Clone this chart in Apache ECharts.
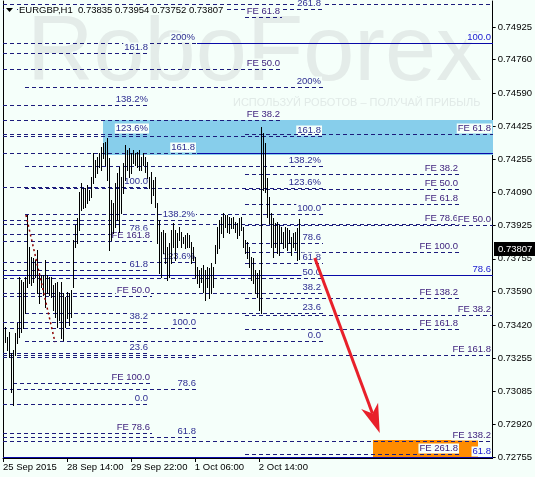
<!DOCTYPE html>
<html><head><meta charset="utf-8">
<script src="https://cdn.jsdelivr.net/npm/echarts@6/dist/echarts.min.js"></script>
<style>html,body{margin:0;padding:0;background:#F5FFFA}#c{width:535px;height:477px}</style>
</head><body><div id="c"></div>
<script>
// ---- data ----
const symbolName = 'EURGBP,H1';
const lastOHLC = [0.73835, 0.73954, 0.73752, 0.73807];
const xTickIndex = [0, 32, 64, 96, 128];
const xTickLabels = ['25 Sep 2015', '28 Sep 14:00', '29 Sep 22:00', '1 Oct 06:00', '2 Oct 14:00'];
const yTickValues = [0.74925, 0.74760, 0.74590, 0.74425, 0.74255, 0.74090, 0.73925, 0.73755, 0.73590, 0.73420, 0.73255, 0.73085, 0.72920, 0.72755];

const barHigh = [
0.73431,0.73411,0.73360,0.73385,0.73279,0.73295,0.73380,0.73431,0.73663,0.73648,
0.73638,0.73663,0.73976,0.73814,0.73764,0.73759,0.73749,0.73799,0.73683,0.73673,
0.73673,0.73749,0.73673,0.73663,0.73663,0.73623,0.73633,0.73638,0.73587,0.73638,
0.73582,0.73562,0.73587,0.73582,0.73597,0.73850,0.73925,0.73961,0.74092,0.74137,
0.74112,0.74112,0.74127,0.74102,0.74168,0.74289,0.74253,0.74269,0.74289,0.74319,
0.74339,0.74344,0.74365,0.74264,0.74052,0.74036,0.74137,0.74188,0.74218,0.74168,
0.74238,0.74329,0.74304,0.74314,0.74289,0.74304,0.74289,0.74294,0.74304,0.74269,
0.74289,0.74269,0.74243,0.74168,0.74193,0.74153,0.74168,0.74036,0.73951,0.73890,
0.73900,0.73885,0.73814,0.73835,0.73900,0.73936,0.73900,0.73885,0.73915,0.73890,
0.73865,0.73875,0.73885,0.73875,0.73840,0.73814,0.73764,0.73714,0.73698,0.73708,
0.73724,0.73698,0.73714,0.73708,0.73734,0.73714,0.73825,0.73915,0.73951,0.73966,
0.73986,0.73976,0.73976,0.73966,0.73961,0.73966,0.73941,0.73936,0.73961,0.73966,
0.73915,0.73850,0.73840,0.73814,0.73764,0.73759,0.73698,0.73683,0.73698,0.74420,
0.74390,0.74339,0.74163,0.74067,0.73986,0.73961,0.73936,0.73941,0.73925,0.73915,
0.73890,0.73915,0.73910,0.73900,0.73865,0.73885,0.73890,0.73910,0.73954];
const barLow = [
0.73380,0.73335,0.73295,0.73259,0.73083,0.73017,0.73269,0.73330,0.73360,0.73385,
0.73406,0.73481,0.73613,0.73633,0.73623,0.73638,0.73663,0.73582,0.73532,0.73613,
0.73572,0.73512,0.73582,0.73572,0.73562,0.73496,0.73461,0.73411,0.73446,0.73355,
0.73345,0.73411,0.73456,0.73421,0.73461,0.73613,0.73814,0.73835,0.73900,0.74001,
0.74011,0.74016,0.74036,0.74052,0.74067,0.74137,0.74168,0.74188,0.74218,0.74203,
0.74264,0.74228,0.74153,0.73799,0.73850,0.73885,0.73915,0.73951,0.73890,0.73986,
0.74087,0.74153,0.74203,0.74168,0.74188,0.74238,0.74228,0.74218,0.74203,0.74203,
0.74228,0.74193,0.74163,0.74112,0.74036,0.74077,0.74016,0.73835,0.73683,0.73663,
0.73784,0.73734,0.73648,0.73663,0.73734,0.73814,0.73749,0.73814,0.73850,0.73814,
0.73835,0.73809,0.73814,0.73814,0.73734,0.73749,0.73663,0.73633,0.73613,0.73638,
0.73587,0.73547,0.73613,0.73557,0.73582,0.73613,0.73734,0.73784,0.73809,0.73885,
0.73865,0.73915,0.73890,0.73885,0.73910,0.73910,0.73890,0.73860,0.73875,0.73900,
0.73814,0.73784,0.73759,0.73714,0.73648,0.73633,0.73582,0.73562,0.73496,0.73481,
0.74102,0.74092,0.73966,0.73936,0.73814,0.73764,0.73814,0.73784,0.73774,0.73835,
0.73809,0.73814,0.73799,0.73835,0.73774,0.73814,0.73799,0.73749,0.73752];

// Fibonacci level lines: price, start bar, end bar, label, solid?
const levelPrice = [0.75041,0.75016,0.74975,0.74844,0.74844,0.74794,0.74713,0.74622,0.74531,0.74455,
  0.74385,0.74375,0.74385,0.74289,0.74289,0.74223,0.74183,0.74117,0.74112,0.74107,
  0.74031,0.73981,0.73951,0.73931,0.73925,0.73880,0.73845,0.73835,0.73789,0.73739,
  0.73734,0.73698,0.73672,0.73658,0.73582,0.73567,0.73557,0.73481,0.73471,0.73436,
  0.73406,0.73401,0.73340,0.73279,0.73269,0.73259,0.73128,0.73098,0.73022,0.72876,
  0.72856,0.72835,0.72770,0.72755];
const levelStart = [0,0,121,0,97,0,0,11,0,0,
  0,0,121,0,97,11,121,0,11,121,
  121,11,0,0,121,0,0,121,121,0,
  121,0,0,0,0,0,121,11,121,0,
  0,121,11,0,0,0,5,0,0,0,
  0,0,121,0];
const levelEnd = [245,160,139.5,97,245,73.5,139.5,160,73.5,139.5,
  73.5,160,245,97,245,160,228.5,73.5,160,228.5,
  228.5,160,97,228.5,245,73.5,74.5,160,228.5,97,
  160,73.5,245,160,160,74.5,228.5,160,245,73.5,
  97.5,228.5,160,73.5,245,97.5,74.5,97.5,73.5,74.5,
  97.5,245,228.5,245];
const levelLabel = ['','261.8','FE 61.8','200%','100.0','161.8','FE 50.0','200%','138.2%','FE 38.2',
  '123.6%','161.8','FE 61.8','161.8','','138.2%','FE 38.2','100.0','123.6%','FE 50.0',
  'FE 61.8','100.0','138.2%','FE 78.6','FE 50.0','78.6','FE 161.8','78.6','FE 100.0','123.6%',
  '61.8','61.8','78.6','50.0','38.2','FE 50.0','FE 138.2','23.6','FE 38.2','38.2',
  '100.0','FE 161.8','0.0','23.6','FE 161.8','','FE 100.0','78.6','0.0','FE 78.6',
  '61.8','FE 138.2','FE 261.8','61.8'];
const levelSolid = [0,0,0,0,1,0,0,0,0,0, 0,0,0,0,1,0,0,0,0,0, 0,0,0,0,0,0,0,0,0,0,
  0,0,1,0,0,0,0,0,0,0, 0,0,0,0,0,0,0,0,0,0, 0,0,0,1];

// zones: [startBar, endBar, topPrice, bottomPrice]
const blueZone = [50, 245, 0.74455, 0.74279];
const orangeZone = [185, 237.5, 0.72841, 0.72755];
// arrow and dotted trend: [bar, price, bar, price]
const arrowLine = [156, 0.73759, 188.5, 0.72876];
const trendLine = [11.5, 0.73976, 26, 0.73335];

// ---- chart ----
const BG = '#F5FFFA';
const FONT = '"Liberation Sans", Arial, sans-serif';
const chart = echarts.init(document.getElementById('c'), null, {renderer: 'canvas'});

function zoneSeries(zone, color) {
  return {
    type: 'custom', z: 1, silent: true,
    data: [zone],
    renderItem: function (params, api) {
      const a = api.coord([api.value(0), api.value(2)]);
      const b = api.coord([api.value(1), api.value(3)]);
      return {type: 'rect', shape: {x: Math.round(a[0]), y: Math.round(a[1]), width: Math.round(b[0]) - Math.round(a[0]), height: Math.round(b[1]) - Math.round(a[1])}, style: {fill: color}};
    }
  };
}

const option = {
  backgroundColor: BG,
  animation: false,
  grid: {left: 3, right: 42, top: 1, bottom: 19},
  xAxis: {
    type: 'value', min: 0, max: 245,
    axisLine: {show: true, onZero: false, lineStyle: {color: '#000', width: 1}},
    axisTick: {show: true, customValues: xTickIndex, length: 4, lineStyle: {color: '#000'}},
    axisLabel: {customValues: xTickIndex, formatter: v => xTickLabels[xTickIndex.indexOf(v)] || '', align: 'left', margin: 4, color: '#000', fontFamily: '"Liberation Sans"', fontSize: 9.5},
    splitLine: {show: false}
  },
  yAxis: [{
    type: 'value', position: 'right', min: 0.72750, max: 0.75056,
    axisLine: {show: true, onZero: false, lineStyle: {color: '#000', width: 1}},
    axisTick: {show: true, customValues: yTickValues, length: 3, lineStyle: {color: '#000'}},
    axisLabel: {customValues: yTickValues, formatter: v => v.toFixed(5), margin: 5, color: '#000', fontFamily: '"Liberation Sans"', fontSize: 9.5},
    splitLine: {show: false}
  }, {
    type: 'value', position: 'left', min: 0.72750, max: 0.75056,
    axisLine: {show: true, onZero: false, lineStyle: {color: '#000', width: 1}},
    axisTick: {show: false}, axisLabel: {show: false}, splitLine: {show: false}
  }],
  graphic: [
    {type: 'text', z: 0, silent: true, style: {text: 'RoboForex', x: 27, y: 55, font: '92px ' + FONT, fill: '#E4ECE9', verticalAlign: 'middle'}},
    {type: 'text', z: 0, silent: true, style: {text: 'ИСПОЛЬЗУЙ РОБОТОВ – ПОЛУЧАЙ ПРИБЫЛЬ', x: 233, y: 103, font: '11px ' + FONT, fill: '#E1EAE7', verticalAlign: 'middle'}},
    {type: 'rect', z: 100, shape: {x: 4, y: 5, width: 12, height: 10}, style: {fill: BG}},
    {type: 'polygon', z: 101, shape: {points: [[6, 8], [13, 8], [9.5, 12]]}, style: {fill: '#000'}},
    {type: 'text', z: 101, style: {text: symbolName + '  ' + lastOHLC.map(v => v.toFixed(5)).join(' '), x: 18, y: 10, font: '9.5px ' + FONT, fill: '#000', verticalAlign: 'middle', backgroundColor: BG, padding: [0, 1, 0, 1]}}
  ],
  series: [
    zoneSeries(blueZone, '#87CEEB'),
    zoneSeries(orangeZone, '#FF8C00'),
    {
      type: 'custom', z: 3, silent: true,
      data: levelPrice.map((p, i) => [levelStart[i], levelEnd[i], p, i]),
      renderItem: function (params, api) {
        const i = api.value(3);
        const a = api.coord([api.value(0), api.value(2)]);
        const b = api.coord([api.value(1), api.value(2)]);
        const y = Math.round(a[1]) + 0.5;
        const solid = levelSolid[i] === 1;
        const lab = levelLabel[i];
        const children = [{type: 'line', shape: {x1: Math.round(a[0]), y1: y, x2: Math.round(b[0]), y2: y},
          style: {stroke: solid ? '#0A0AA8' : '#1C1C7C', lineWidth: 1, lineDash: solid ? null : [4, 3]}}];
        if (lab) {
          const col = solid ? '#1818D0' : (lab.indexOf('FE') === 0 ? '#3A1C7A' : '#2E2E92');
          children.push({type: 'text', x: Math.round(b[0]) - 1, y: y - 1,
            style: {text: lab, fill: col, font: '9.5px ' + FONT, align: 'right', verticalAlign: 'bottom', backgroundColor: BG, padding: [0, 1, 0, 1]}});
        }
        return {type: 'group', children: children};
      }
    },
    {
      type: 'custom', z: 4, silent: true,
      data: barHigh.map((h, i) => [i, barLow[i], h]),
      renderItem: function (params, api) {
        const lo = api.coord([api.value(0), api.value(1)]);
        const hi = api.coord([api.value(0), api.value(2)]);
        const x = Math.round(lo[0]) + 0.5;
        return {type: 'line', shape: {x1: x, y1: Math.round(hi[1]), x2: x, y2: Math.round(lo[1]) + 1}, style: {stroke: '#000', lineWidth: 1}};
      }
    },
    {
      type: 'custom', z: 5, silent: true,
      data: [trendLine],
      renderItem: function (params, api) {
        const a = api.coord([api.value(0), api.value(1)]);
        const b = api.coord([api.value(2), api.value(3)]);
        return {type: 'line', shape: {x1: a[0], y1: a[1], x2: b[0], y2: b[1]}, style: {stroke: '#8B0000', lineWidth: 1.5, lineDash: [2, 3]}};
      }
    },
    {
      type: 'custom', z: 6, silent: true,
      data: [arrowLine],
      renderItem: function (params, api) {
        const a = api.coord([api.value(0), api.value(1)]);
        const b = api.coord([api.value(2), api.value(3)]);
        const dx = b[0] - a[0], dy = b[1] - a[1];
        const len = Math.sqrt(dx * dx + dy * dy);
        const ux = dx / len, uy = dy / len, nx = -uy, ny = ux;
        const L = 29, W = 9;
        const notch = [b[0] - ux * L * 0.72, b[1] - uy * L * 0.72];
        return {type: 'group', children: [
          {type: 'line', shape: {x1: a[0], y1: a[1], x2: notch[0], y2: notch[1]}, style: {stroke: '#E8202A', lineWidth: 3}},
          {type: 'polygon', shape: {points: [[b[0], b[1]], [b[0] - ux * L + nx * W, b[1] - uy * L + ny * W], notch, [b[0] - ux * L - nx * W, b[1] - uy * L - ny * W]]}, style: {fill: '#E8202A'}}
        ]};
      }
    },
    {
      type: 'custom', z: 7, silent: true, clip: false,
      data: [[245, lastOHLC[3]]],
      renderItem: function (params, api) {
        const c = api.coord([api.value(0), api.value(1)]);
        const y = Math.round(c[1]);
        return {type: 'group', children: [
          {type: 'rect', shape: {x: Math.round(c[0]) + 1, y: y - 7, width: 41, height: 14}, style: {fill: '#000'}},
          {type: 'text', x: Math.round(c[0]) + 5, y: y, style: {text: lastOHLC[3].toFixed(5), fill: '#fff', font: '9.5px ' + FONT, verticalAlign: 'middle'}}
        ]};
      }
    }
  ]
};
chart.setOption(option);
</script></body></html>
